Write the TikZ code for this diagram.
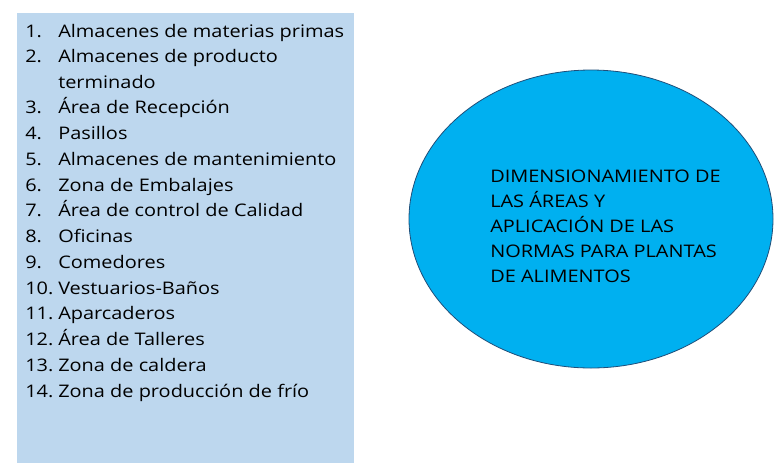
\documentclass[tikz,border=0pt]{standalone}
\usepackage{fontspec}
\usetikzlibrary{shapes.geometric}
\setmainfont{Open Sans}[FakeStretch=1.15]
\definecolor{listbg}{HTML}{BDD7EE}
\definecolor{ellfill}{HTML}{00B0F0}
\definecolor{ellline}{HTML}{1F4E79}
\begin{document}
\begin{tikzpicture}[x=0.75pt,y=-0.75pt,
  num/.style={anchor=base west,inner sep=0pt,font=\fontsize{13}{15}\selectfont},
  itm/.style={anchor=base west,inner sep=0pt,font=\fontsize{13}{15}\selectfont},
  ell/.style={anchor=base west,inner sep=0pt,font=\fontsize{13}{15}\selectfont},
  bigell/.style={draw=ellline,line width=0.6pt,fill=ellfill,ellipse,minimum width=273pt,minimum height=223.5pt,inner sep=0pt}]
\useasboundingbox (0,0) rectangle (778,472);
\fill[listbg] (17,13) rectangle (354,463);
\node[bigell] (e) at (591,219) {};
\foreach \n/\t/\y in {1./Almacenes de materias primas/37,
  2./Almacenes de producto/62,
  /terminado/88,
  3./Área de Recepción/113,
  4./Pasillos/139,
  5./Almacenes de mantenimiento/165,
  6./Zona de Embalajes/191,
  7./Área de control de Calidad/216,
  8./Oficinas/242,
  9./Comedores/268,
  10./Vestuarios-Baños/294,
  11./Aparcaderos/319,
  12./Área de Talleres/345,
  13./Zona de caldera/371,
  14./Zona de producción de frío/397}{
  \node[num] at (25,\y) {\n};
  \node[itm] at (58,\y) {\t};
}
\foreach \t/\y in {DIMENSIONAMIENTO DE/182, LAS ÁREAS Y/207, APLICACIÓN DE LAS/232, NORMAS PARA PLANTAS/257, DE ALIMENTOS/282}{
  \node[ell] at (490,\y) {\t};
}
\end{tikzpicture}
\end{document}
